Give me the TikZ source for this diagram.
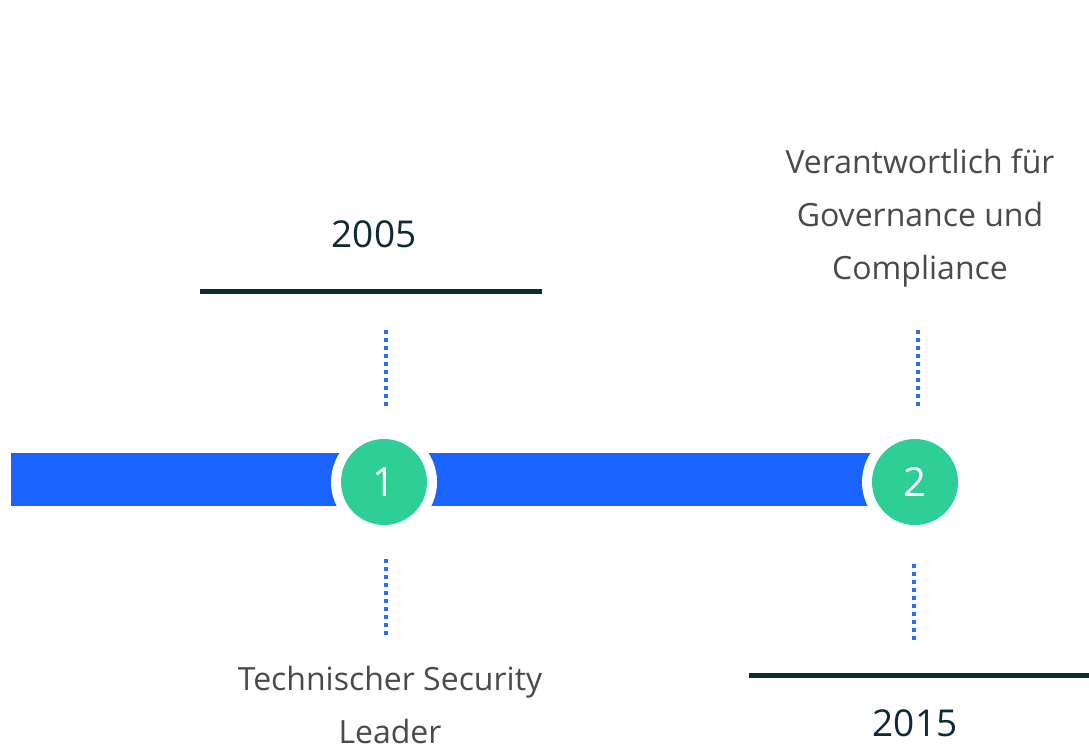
\documentclass[tikz,border=0pt]{standalone}
\usepackage{fontspec}
\setmainfont{Open Sans}
\definecolor{barblue}{HTML}{1A63FF}
\definecolor{dotblue}{HTML}{2A6CF5}
\definecolor{stepgreen}{HTML}{2DCF97}
\definecolor{darkink}{HTML}{0E2A33}
\definecolor{softgray}{HTML}{4A4A4A}
\tikzset{
  px/.style={x=1pt,y=-1pt},
  timebar/.style={fill=barblue,draw=none},
  halo/.style={circle,fill=white,draw=none,minimum size=106pt,inner sep=0pt},
  stepdot/.style={circle,fill=stepgreen,draw=none,minimum size=86pt,inner sep=0pt,
    text=white,font=\fontsize{40}{44}\selectfont},
  guide/.style={draw=dotblue,line width=4pt,dash pattern=on 4pt off 4pt},
  yearrule/.style={draw=darkink,line width=5pt},
  yeartext/.style={text=darkink,font=\fontsize{37}{42}\selectfont,inner sep=0pt},
  desctext/.style={text=softgray,font=\fontsize{32}{53}\selectfont,align=center,inner sep=0pt}
}
\begin{document}
\begin{tikzpicture}[px]
\useasboundingbox (0,0) rectangle (1089,750);
% main bar
\fill[timebar] (11,453) rectangle (915,506);
% milestone markers
\node[halo] (h1) at (384,482) {};
\node[halo] (h2) at (915,482) {};
\node[stepdot] (s1) at (384,482) {1};
\node[stepdot] (s2) at (915,482) {2};
% dotted guides
\coordinate (g1a) at (386,330); \coordinate (g1b) at (386,406);
\coordinate (g1c) at (386,559); \coordinate (g1d) at (386,635);
\coordinate (g2a) at (918,330); \coordinate (g2b) at (918,406);
\coordinate (g2c) at (914,564); \coordinate (g2d) at (914,640);
\draw[guide] (g1a) -- (g1b);
\draw[guide] (g1c) -- (g1d);
\draw[guide] (g2a) -- (g2b);
\draw[guide] (g2c) -- (g2d);
% year rules
\coordinate (r1a) at (200,291); \coordinate (r1b) at (542,291);
\coordinate (r2a) at (749,675); \coordinate (r2b) at (1089,675);
\draw[yearrule] (r1a) -- (r1b);
\draw[yearrule] (r2a) -- (r2b);
% labels
\node[yeartext] (y1) at (374,234) {2005};
\node[yeartext] (y2) at (915,723) {2015};
\node[desctext] (d2) at (920,218) {Verantwortlich für\\Governance und\\Compliance};
\node[desctext] (d1) at (390,705) {Technischer Security\\Leader};
\end{tikzpicture}
\end{document}
